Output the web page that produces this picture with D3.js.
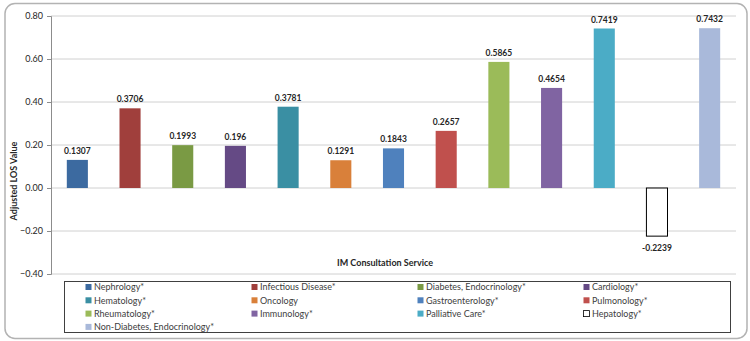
<!DOCTYPE html>
<html>
<head>
<meta charset="utf-8">
<script src="https://cdn.jsdelivr.net/npm/d3@7"></script>
<style>
  body { margin: 0; background: #fff; }
  svg text { font-family: Lato, "Open Sans", sans-serif; }
</style>
</head>
<body>
<div id="chart"></div>
<script>
const services = ['Nephrology*', 'Infectious Disease*', 'Diabetes, Endocrinology*', 'Cardiology*',
  'Hematology*', 'Oncology', 'Gastroenterology*', 'Pulmonology*',
  'Rheumatology*', 'Immunology*', 'Palliative Care*', 'Hepatology*',
  'Non-Diabetes, Endocrinology*'];
const losValues = [0.1307, 0.3706, 0.1993, 0.196, 0.3781, 0.1291, 0.1843, 0.2657,
  0.5865, 0.4654, 0.7419, -0.2239, 0.7432];
const valueLabels = ['0.1307', '0.3706', '0.1993', '0.196', '0.3781', '0.1291', '0.1843', '0.2657',
  '0.5865', '0.4654', '0.7419', '-0.2239', '0.7432'];
const barColors = ['#3c6aa0', '#a03f3c', '#7a9a44', '#654a85', '#3a8fa3', '#d9803a', '#4f81bd',
  '#c0504d', '#9bbb59', '#8064a2', '#4bacc6', '#ffffff', '#a9b9da'];
const yTicks = [-0.4, -0.2, 0, 0.2, 0.4, 0.6, 0.8];

function plot() {
  var W = 750, H = 341;
  var margin = { top: 16, right: 14, bottom: 67, left: 51 },
      width = W - margin.left - margin.right,
      height = H - margin.top - margin.bottom;

  var svg = d3.select('#chart').append('svg')
      .attr('width', W)
      .attr('height', H);

  // outer frame
  svg.append('rect')
      .attr('x', 5).attr('y', 3.5)
      .attr('width', 742).attr('height', 335)
      .attr('rx', 10).attr('ry', 10)
      .attr('fill', '#fff')
      .attr('stroke', '#b3b3b3')
      .attr('stroke-width', 1.5);

  var g = svg.append('g')
      .attr('transform', `translate(${margin.left},${margin.top})`);

  var x = d3.scaleBand()
      .domain(services)
      .range([0, width])
      .paddingInner(0.6)
      .paddingOuter(0.3);
  var y = d3.scaleLinear()
      .domain([-0.4, 0.8])
      .range([height, 0]);

  // gridlines
  g.append('g')
      .selectAll('line')
      .data(yTicks)
      .join('line')
      .attr('x1', 0).attr('x2', width)
      .attr('y1', d => y(d)).attr('y2', d => y(d))
      .attr('stroke', '#d0d0d0')
      .attr('stroke-width', 1);

  var yAxis = g.append('g')
      .call(d3.axisLeft(y).tickValues(yTicks).tickFormat(d3.format('.2f')).tickSize(4).tickPadding(4));
  yAxis.select('.domain').attr('stroke', '#8c8c8c');
  yAxis.selectAll('.tick line').attr('stroke', '#8c8c8c');
  yAxis.selectAll('.tick text')
      .attr('font-size', 9)
      .attr('fill', '#262626')
      .style('font-family', 'Lato, sans-serif');

  var data = services.map((s, i) => ({ name: s, value: losValues[i], label: valueLabels[i], color: barColors[i] }));

  g.append('g')
      .selectAll('rect')
      .data(data)
      .join('rect')
      .attr('x', d => x(d.name))
      .attr('width', x.bandwidth())
      .attr('y', d => y(Math.max(0, d.value)))
      .attr('height', d => Math.abs(y(d.value) - y(0)))
      .attr('fill', d => d.color)
      .attr('stroke', d => d.value < 0 ? '#000' : 'none')
      .attr('stroke-width', 1);

  g.append('g')
      .selectAll('text')
      .data(data)
      .join('text')
      .attr('x', d => x(d.name) + x.bandwidth() / 2)
      .attr('y', d => d.value < 0 ? y(d.value) + 15 : y(d.value) - 6)
      .attr('text-anchor', 'middle')
      .attr('font-size', 8.5)
      .attr('font-weight', 'bold')
      .attr('fill', '#262626')
      .text(d => d.label);

  // axis titles
  svg.append('text')
      .attr('x', 385).attr('y', 266)
      .attr('text-anchor', 'middle')
      .attr('font-size', 9)
      .attr('font-weight', 'bold')
      .attr('fill', '#262626')
      .text('IM Consultation Service');

  svg.append('text')
      .attr('transform', 'translate(17,181) rotate(-90)')
      .attr('text-anchor', 'middle')
      .attr('font-size', 9)
      .attr('font-weight', 'bold')
      .attr('fill', '#262626')
      .text('Adjusted LOS Value');

  // legend
  var legend = svg.append('g');
  legend.append('rect')
      .attr('x', 64.5).attr('y', 281.5)
      .attr('width', 666).attr('height', 51)
      .attr('fill', '#fff')
      .attr('stroke', '#404040')
      .attr('stroke-width', 1);

  var item = legend.selectAll('g.item')
      .data(data)
      .join('g')
      .attr('class', 'item')
      .attr('transform', (d, i) => `translate(${85 + (i % 4) * 166},${287 + Math.floor(i / 4) * 13.3})`);
  item.append('rect')
      .attr('x', 0.5).attr('y', -3)
      .attr('width', 6).attr('height', 6)
      .attr('fill', d => d.color)
      .attr('stroke', d => d.value < 0 ? '#000' : 'none')
      .attr('stroke-width', 0.8);
  item.append('text')
      .attr('x', 9).attr('y', 3.3)
      .attr('font-size', 9)
      .attr('fill', '#404040')
      .text(d => d.name);
}

plot();
</script>
</body>
</html>
